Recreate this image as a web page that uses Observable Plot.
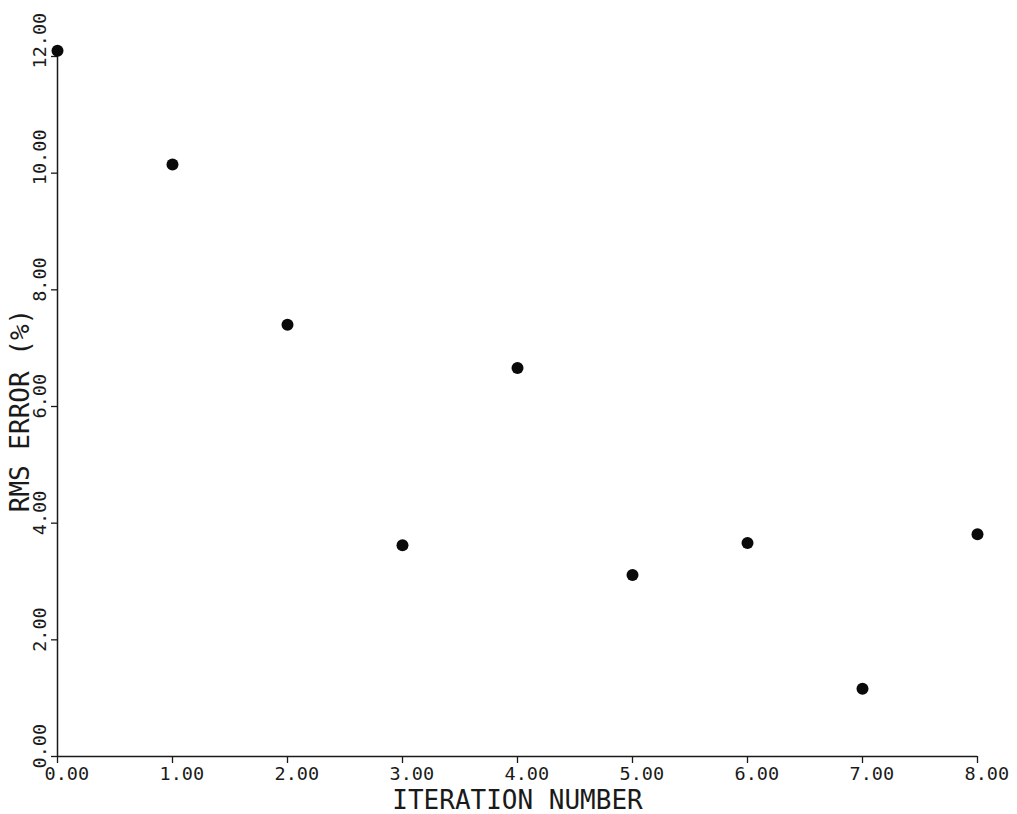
<!DOCTYPE html>
<html>
<head>
<meta charset="utf-8">
<script src="https://cdn.jsdelivr.net/npm/d3@7"></script>
<script src="https://cdn.jsdelivr.net/npm/@observablehq/plot@0.6"></script>
<style>
  html, body { margin: 0; padding: 0; background: #fff; }
  #chart { width: 1017px; height: 814px; }
</style>
</head>
<body>
<div id="chart"></div>
<script>
const iterations = [0, 1, 2, 3, 4, 5, 6, 7, 8];
const rmsError = [12.1, 10.15, 7.40, 3.62, 6.66, 3.11, 3.66, 1.16, 3.81];
const xTicks = [0, 1, 2, 3, 4, 5, 6, 7, 8];
const yTicks = [0, 2, 4, 6, 8, 10, 12];
const xTitle = "ITERATION NUMBER";
const yTitle = "RMS ERROR (%)";

const data = iterations.map((it, i) => ({iteration: it, error: rmsError[i]}));
const font = "DejaVu Sans Mono, monospace";
const ink = "#1a1a1a";

const chart = Plot.plot({
  width: 1017,
  height: 814,
  marginLeft: 57,
  marginRight: 40,
  marginTop: 56,
  marginBottom: 58,
  style: {fontFamily: font, background: "#fff", color: ink},
  x: {domain: [0, 8], axis: null},
  y: {domain: [0, 12], axis: null},
  marks: [
    // axis lines
    Plot.ruleY([0], {x1: 0, x2: 8, stroke: ink, strokeWidth: 1.5}),
    Plot.ruleX([0], {y1: 0, y2: 12, stroke: ink, strokeWidth: 1.5}),
    // outward ticks
    Plot.ruleX(xTicks, {x: d => d, y1: 0, y2: 0, insetBottom: -7, stroke: ink, strokeWidth: 1.3}),
    Plot.ruleY(yTicks, {y: d => d, x1: 0, x2: 0, insetLeft: -6, stroke: ink, strokeWidth: 1.3}),
    // x tick labels
    Plot.text(xTicks, {
      x: d => d, y: 0, text: d => d.toFixed(2),
      textAnchor: "start", lineAnchor: "top", dx: -13, dy: 10,
      fontSize: 18.5, fontFamily: font, fill: ink
    }),
    // y tick labels (rotated)
    Plot.text(yTicks, {
      x: 0, y: d => d, text: d => d.toFixed(2),
      rotate: -90, textAnchor: "start", lineAnchor: "bottom", dx: -12, dy: 12,
      fontSize: 18.5, fontFamily: font, fill: ink
    }),
    // axis titles
    Plot.text([xTitle], {
      x: 4, y: 0, text: d => d, textAnchor: "middle", lineAnchor: "bottom", dy: 52,
      fontSize: 26, fontFamily: font, fill: ink
    }),
    Plot.text([yTitle], {
      frameAnchor: "left", text: d => d, rotate: -90, textAnchor: "middle", lineAnchor: "bottom", dx: -29, dy: 4,
      fontSize: 26, fontFamily: font, fill: ink
    }),
    // data points
    Plot.dot(data, {x: "iteration", y: "error", r: 6, fill: "#0a0a0a", stroke: "none"})
  ]
});
document.getElementById("chart").appendChild(chart);
</script>
</body>
</html>
